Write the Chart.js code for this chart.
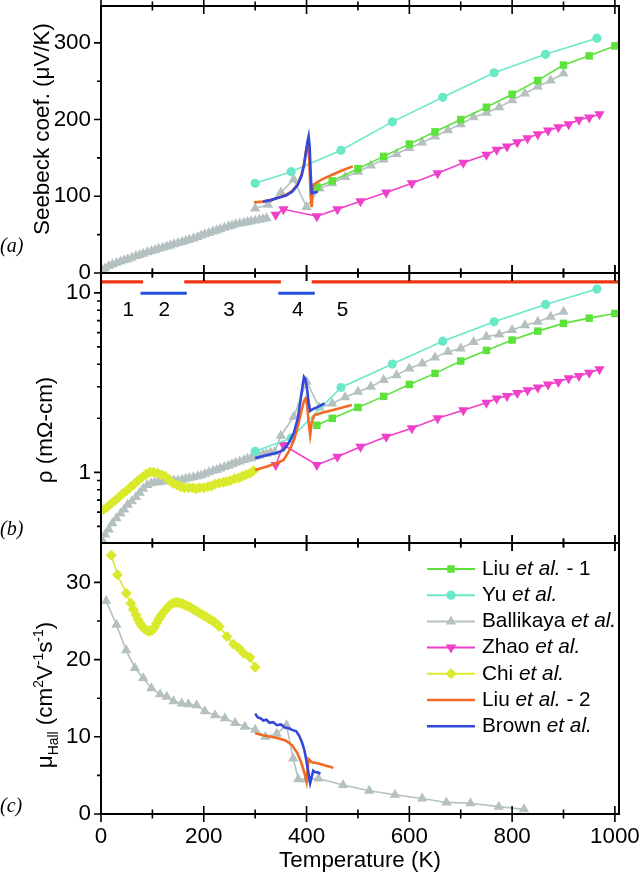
<!DOCTYPE html>
<html>
<head>
<meta charset="utf-8">
<script src="https://cdn.jsdelivr.net/npm/chart.js@4.4.1/dist/chart.umd.min.js"></script>
<style>
html, body { margin: 0; background: #fff; }
#wrap { position: relative; width: 640px; height: 874px; }
canvas { position: absolute; left: 0; top: 0; }
</style>
</head>
<body>
<div id="wrap">
<canvas id="seebeck" width="640" height="874"></canvas>
<canvas id="rho" width="640" height="874"></canvas>
<canvas id="hall" width="640" height="874"></canvas>
</div>
<script>
// ---- data ----
const xMajorTicks = [0, 200, 400, 600, 800, 1000];
const xMinorTicks = [100, 300, 500, 700, 900];
const seebeckTicks = [0, 100, 200, 300];
const seebeckMinor = [50, 150, 250];
const rhoTicks = [1, 10];
const rhoMinor = [0.5, 0.6, 0.7, 0.8, 0.9, 2, 3, 4, 5, 6, 7, 8, 9];
const hallTicks = [0, 10, 20, 30];
const hallMinor = [5, 15, 25];

const legendNames = ['Liu', 'Yu', 'Ballikaya', 'Zhao', 'Chi', 'Liu', 'Brown'];
const legendSuffix = [' - 1', '', '', '', '', ' - 2', ''];

const tempLiu1 = [420, 450, 500, 550, 600, 650, 700, 750, 800, 850, 900, 950, 1000];
const seebeckLiu1 = [112, 120, 136, 152, 168, 184, 200, 216, 233, 251, 271, 283, 296];
const rhoLiu1 = [1.83, 2.0, 2.30, 2.65, 3.09, 3.56, 4.17, 4.78, 5.46, 6.12, 6.76, 7.23, 7.68];

const tempYu = [300, 370, 467, 567, 665, 765, 865, 965];
const seebeckYu = [117, 132, 160, 197, 229, 261, 285, 306];
const rhoYu = [1.31, 1.55, 2.97, 4.01, 5.38, 6.90, 8.62, 10.5];

const tempBallikayaLowS = [2, 8, 15, 22, 30, 38, 45, 52, 60, 68, 75, 82, 90, 98, 105, 112, 120, 128, 135, 142, 150, 158, 165, 172, 180, 188, 195, 202, 210, 218, 225, 232, 240, 248, 255, 262, 270, 278, 285, 292, 300, 308, 315, 322];
const seebeckBallikayaLow = [4, 6, 9, 11, 13, 15, 16.5, 18, 20, 22, 23.5, 25, 27, 28.5, 30, 31.5, 33, 34.5, 36, 37.5, 39, 40.5, 42, 43.5, 45, 47, 49, 50.5, 52, 54, 55.5, 57, 59, 60.5, 62, 63.5, 64.5, 65.5, 66.5, 67.5, 68.5, 69.5, 70.5, 71.5];
const tempBallikayaHighS = [300, 325, 350, 375, 400, 425, 450, 475, 500, 525, 550, 575, 600, 625, 650, 675, 700, 725, 750, 775, 800, 825, 850, 875, 900];
const seebeckBallikayaHigh = [84, 89, 105, 122, 86, 110, 117, 125, 132, 140, 148, 155, 163, 170, 178, 186, 194, 203, 209, 216, 225, 234, 243, 251, 260];
const tempBallikayaRho = [2, 8, 15, 22, 30, 38, 45, 52, 60, 68, 75, 82, 90, 98, 105, 112, 120, 128, 135, 142, 150, 158, 165, 172, 180, 188, 195, 202, 210, 218, 225, 232, 240, 248, 255, 262, 270, 278, 285, 292, 300, 308, 315, 322, 330, 338, 350, 375, 400, 425, 450, 475, 500, 525, 550, 575, 600, 625, 650, 675, 700, 725, 750, 775, 800, 825, 850, 875, 900];
const rhoBallikaya = [0.42, 0.45, 0.48, 0.52, 0.555, 0.59, 0.62, 0.66, 0.69, 0.73, 0.77, 0.81, 0.85, 0.87, 0.88, 0.88, 0.89, 0.9, 0.9, 0.9, 0.9, 0.91, 0.92, 0.93, 0.94, 0.95, 0.96, 0.98, 1.0, 1.02, 1.03, 1.05, 1.07, 1.09, 1.11, 1.13, 1.15, 1.17, 1.19, 1.2, 1.22, 1.24, 1.26, 1.27, 1.29, 1.30, 1.6, 2.04, 3.2, 2.3, 2.42, 2.62, 2.81, 3.0, 3.27, 3.48, 3.79, 4.04, 4.37, 4.69, 4.9, 5.33, 5.69, 5.87, 6.2, 6.6, 6.9, 7.35, 7.84];
const tempBallikayaHall = [10, 30, 49, 66, 82, 98, 115, 128, 141, 157, 170, 186, 202, 222, 241, 261, 280, 300, 320, 342, 361, 374, 384, 400, 423, 471, 522, 572, 625, 672, 719, 774, 823];
const hallBallikaya = [27.6, 24.5, 21.2, 18.9, 17.6, 16.3, 15.5, 15.2, 14.6, 14.3, 14.2, 14.1, 13.3, 12.8, 12.4, 11.8, 11.3, 10.9, 10.0, 10.4, 11.5, 7.2, 4.5, 4.5, 4.6, 3.75, 3.0, 2.5, 2.0, 1.5, 1.4, 0.95, 0.6];

const tempZhao = [340, 355, 420, 460, 505, 555, 605, 655, 705, 750, 770, 790, 810, 830, 850, 870, 890, 910, 930, 950, 970];
const seebeckZhao = [76, 83, 74, 83, 93.5, 105, 117, 130, 143.6, 154, 160.6, 165, 170.5, 175.7, 181, 185.6, 190, 194, 199.7, 202.7, 207];
const rhoZhao = [1.10, 1.42, 1.10, 1.22, 1.39, 1.58, 1.76, 2.0, 2.22, 2.44, 2.58, 2.66, 2.77, 2.87, 2.97, 3.09, 3.19, 3.34, 3.44, 3.59, 3.75];

const tempChiRho = [5, 12, 20, 28, 35, 42, 50, 58, 65, 72, 80, 88, 95, 102, 110, 118, 125, 132, 140, 148, 155, 162, 170, 178, 185, 192, 200, 208, 215, 222, 230, 238, 245, 252, 260, 268, 275, 282, 290, 297];
const rhoChi = [0.62, 0.64, 0.67, 0.70, 0.73, 0.76, 0.79, 0.83, 0.86, 0.90, 0.94, 0.98, 1.0, 1.0, 0.99, 0.97, 0.95, 0.91, 0.87, 0.85, 0.83, 0.82, 0.82, 0.82, 0.81, 0.82, 0.82, 0.83, 0.84, 0.86, 0.87, 0.88, 0.89, 0.90, 0.92, 0.93, 0.95, 0.97, 0.99, 1.02];
const tempChiHall = [20, 32, 49, 58, 63, 68, 72, 76, 80, 84, 88, 92, 96, 100, 104, 108, 112, 116, 120, 125, 130, 135, 140, 145, 150, 155, 160, 165, 170, 175, 180, 185, 190, 195, 200, 205, 210, 215, 220, 225, 230, 245, 258, 268, 278, 290, 300];
const hallChi = [33.5, 31.0, 28.6, 27.3, 26.5, 25.8, 25.2, 24.7, 24.3, 24.0, 23.8, 23.7, 23.7, 23.8, 24.2, 24.7, 25.2, 25.6, 26.0, 26.4, 26.8, 27.1, 27.3, 27.4, 27.4, 27.3, 27.2, 27.0, 26.9, 26.7, 26.5, 26.3, 26.1, 25.9, 25.7, 25.5, 25.3, 25.1, 24.9, 24.6, 24.3, 23.0, 22.0, 21.5, 20.8, 20.3, 19.0];

const tempLiu2S = [298, 315, 330, 345, 360, 372, 382, 390, 395, 399, 402, 405, 408, 410, 413, 430, 450, 470, 490];
const seebeckLiu2 = [92, 93, 95, 98, 102, 107, 115, 128, 142, 160, 168, 150, 100, 86, 115, 122, 128, 134, 139];
const tempLiu2Rho = [300, 320, 340, 355, 365, 375, 383, 390, 395, 398, 401, 404, 407, 410, 415, 430, 450, 470, 488];
const rhoLiu2 = [1.03, 1.07, 1.12, 1.17, 1.3, 1.5, 1.8, 2.2, 2.5, 2.58, 2.4, 1.9, 1.62, 1.9, 2.08, 2.15, 2.22, 2.3, 2.37];
const tempLiu2Hall = [300, 315, 330, 345, 360, 372, 382, 390, 396, 400, 404, 410, 420, 435, 452];
const hallLiu2 = [10.45, 10.2, 10.0, 9.8, 9.5, 8.9, 7.9, 6.6, 5.3, 4.2, 7.1, 6.7, 6.6, 6.3, 6.0];

const tempBrownS = [315, 330, 345, 360, 372, 382, 390, 395, 399, 402, 404, 406, 408, 410, 415, 422];
const seebeckBrown = [93, 95, 98, 101, 106, 114, 126, 140, 158, 172, 178, 165, 130, 104, 105, 106];
const tempBrownRho = [300, 320, 340, 355, 365, 375, 383, 388, 392, 395, 398, 401, 404, 407, 412, 420, 435];
const rhoBrown = [1.20, 1.24, 1.28, 1.33, 1.45, 1.65, 2.0, 2.5, 3.0, 3.4, 3.3, 2.9, 2.45, 2.2, 2.25, 2.3, 2.42];
const tempBrownHall = [300, 305, 310, 316, 322, 328, 335, 342, 350, 358, 365, 372, 380, 386, 391, 396, 400, 404, 407, 410, 413, 417, 422, 427];
const hallBrown = [13.0, 12.5, 12.4, 12.1, 12.2, 11.8, 11.9, 11.5, 11.6, 11.2, 11.1, 10.9, 10.7, 10.1, 9.3, 8.2, 6.8, 5.2, 4.0, 4.8, 5.6, 5.4, 5.4, 5.2];

// temperature ranges of the five regions marked above panel (b)
const regionRed = [[0, 82], [162, 350], [410, 1010]];
const regionBlue = [[77, 167], [345, 416]];
const regionLabels = ['1', '2', '3', '4', '5'];
const regionLabelTemp = [53, 123, 249, 383, 470];

// ---- fonts ----
function hasFont(name) {
  const c = document.createElement('canvas').getContext('2d');
  c.font = '40px monospace';
  const w0 = c.measureText('Temperature 1000').width;
  c.font = '40px "' + name + '", monospace';
  return c.measureText('Temperature 1000').width !== w0;
}
const NARROW = hasFont('Liberation Sans Narrow');
const FAMILY = NARROW ? '"Liberation Sans Narrow", "Liberation Sans", sans-serif' : '"Liberation Sans", Arial, sans-serif';
const K = NARROW ? 1 : 0.83;
const fs = n => Math.round(n * K * 10) / 10;

// ---- styles ----
const style = {
  liu1: { color: '#5de23c', pointStyle: 'rect', radius: 5.3, width: 1.6 },
  yu: { color: '#6ae8c8', pointStyle: 'circle', radius: 4.6, width: 1.6 },
  ballikaya: { color: '#b5c1c1', pointStyle: 'triangle', radius: 6, width: 1.6 },
  zhao: { color: '#f03fc8', pointStyle: 'triangle', rotation: 180, radius: 6, width: 1.6 },
  chi: { color: '#d9ea2c', pointStyle: 'rectRot', radius: 5.5, width: 1.6 },
  liu2: { color: '#f26a24', pointStyle: false, radius: 0, width: 2.6 },
  brown: { color: '#3447dc', pointStyle: false, radius: 0, width: 2.6 }
};
const legendOrder = ['liu1', 'yu', 'ballikaya', 'zhao', 'chi', 'liu2', 'brown'];
const drawOrder = { brown: 1, liu2: 2, liu1: 3, yu: 4, zhao: 5, chi: 6, ballikaya: 7 };

const pts = (xs, ys) => xs.map((x, i) => ({ x: x, y: ys[i] }));

function series(key, data) {
  const s = style[key];
  return {
    data: data,
    borderColor: s.color,
    backgroundColor: s.color,
    borderWidth: s.width,
    pointStyle: s.pointStyle || 'circle',
    pointRadius: s.radius,
    pointRotation: s.rotation || 0,
    pointBorderWidth: 0,
    pointHoverRadius: 0,
    tension: 0,
    spanGaps: false,
    order: drawOrder[key]
  };
}

function band(ranges, level, color) {
  const data = [];
  ranges.forEach(r => {
    if (data.length) data.push({ x: r[0] - 1, y: null });
    data.push({ x: r[0], y: level }, { x: r[1], y: level });
  });
  return { data: data, borderColor: color, borderWidth: 3.2, pointRadius: 0, spanGaps: false, order: 0 };
}

// ---- drawing helpers ----
function drawRich(ctx, parts, cx, cy, size) {
  ctx.save();
  ctx.translate(cx, cy);
  ctx.rotate(-Math.PI / 2);
  ctx.fillStyle = '#000';
  ctx.textBaseline = 'alphabetic';
  ctx.textAlign = 'left';
  const small = size * 0.62;
  let total = 0;
  parts.forEach(p => {
    ctx.font = ((p.sub || p.sup) ? small : size) + 'px ' + FAMILY;
    p.w = ctx.measureText(p.t).width;
    total += p.w;
  });
  let x = -total / 2;
  const base = size * 0.36;
  parts.forEach(p => {
    ctx.font = ((p.sub || p.sup) ? small : size) + 'px ' + FAMILY;
    const dy = p.sub ? size * 0.26 : (p.sup ? -size * 0.4 : 0);
    ctx.fillText(p.t, x, base + dy);
    x += p.w;
  });
  ctx.restore();
}

const panelDecor = {
  id: 'panelDecor',
  afterDatasetsDraw(chart, args, o) {
    const { ctx, chartArea: a } = chart;
    const x = chart.scales.x, y = chart.scales.y;
    ctx.save();
    ctx.strokeStyle = '#000';
    ctx.lineWidth = 1.6;
    ctx.beginPath();
    xMajorTicks.concat(xMinorTicks).forEach(v => {
      const px = x.getPixelForValue(v);
      const h = xMajorTicks.includes(v) ? 8 : 4.5;
      ctx.moveTo(px, a.top - h); ctx.lineTo(px, a.top + h);
      ctx.moveTo(px, a.bottom - h); ctx.lineTo(px, a.bottom + h);
    });
    o.major.forEach(v => {
      const py = y.getPixelForValue(v);
      ctx.moveTo(a.left - 7, py); ctx.lineTo(a.left, py);
    });
    o.minor.forEach(v => {
      const py = y.getPixelForValue(v);
      ctx.moveTo(a.left - 4, py); ctx.lineTo(a.left, py);
    });
    ctx.stroke();
    ctx.lineWidth = 2;
    ctx.strokeRect(a.left, a.top, a.right - a.left, a.bottom - a.top);

    ctx.fillStyle = '#000';
    ctx.font = 'italic 20px "Liberation Serif", "DejaVu Serif", serif';
    ctx.textBaseline = 'middle';
    ctx.textAlign = 'left';
    ctx.fillText(o.letter, 0, a.bottom - o.letterUp);
    ctx.restore();

    drawRich(ctx, o.title, o.titleX, o.titleY, fs(27));

    if (o.regions) {
      ctx.save();
      ctx.fillStyle = '#000';
      ctx.font = fs(25) + 'px ' + FAMILY;
      ctx.textAlign = 'center';
      ctx.textBaseline = 'middle';
      regionLabels.forEach((t, i) => {
        ctx.fillText(t, x.getPixelForValue(regionLabelTemp[i]), y.getPixelForValue(8.0));
      });
      ctx.restore();
    }
  }
};

const legendBox = {
  id: 'legendBox',
  afterDraw(chart, args, o) {
    if (!o.show) return;
    const ctx = chart.ctx;
    ctx.save();
    legendOrder.forEach((key, i) => {
      const s = style[key];
      const yy = 569 + i * 26.2;
      ctx.strokeStyle = s.color;
      ctx.lineWidth = Math.max(s.width, 2);
      ctx.beginPath();
      ctx.moveTo(427, yy); ctx.lineTo(475, yy);
      ctx.stroke();
      if (s.pointStyle) {
        ctx.fillStyle = s.color;
        Chart.helpers.drawPoint(ctx, { pointStyle: s.pointStyle, radius: s.radius, rotation: s.rotation || 0, borderWidth: 0 }, 451, yy);
      }
      ctx.fillStyle = '#000';
      ctx.textBaseline = 'middle';
      ctx.textAlign = 'left';
      let tx = 482;
      ctx.font = fs(25) + 'px ' + FAMILY;
      ctx.fillText(legendNames[i] + ' ', tx, yy);
      tx += ctx.measureText(legendNames[i] + ' ').width;
      ctx.font = 'italic ' + fs(25) + 'px ' + FAMILY;
      ctx.fillText('et al.', tx, yy);
      tx += ctx.measureText('et al.').width;
      ctx.font = fs(25) + 'px ' + FAMILY;
      ctx.fillText(legendSuffix[i], tx, yy);
    });
    ctx.restore();
  }
};

Chart.register(panelDecor, legendBox);

function makePanel(id, datasets, yOpts, pad, deco, showX) {
  const tickFont = { family: FAMILY, size: fs(27) };
  return new Chart(document.getElementById(id), {
    type: 'line',
    data: { datasets: datasets },
    options: {
      responsive: false,
      animation: false,
      events: [],
      layout: { padding: pad },
      plugins: {
        legend: { display: false },
        tooltip: { enabled: false },
        panelDecor: deco,
        legendBox: { show: !!showX }
      },
      scales: {
        x: {
          type: 'linear',
          min: 0,
          max: 1008,
          display: !!showX,
          grid: { display: false, drawTicks: false, tickLength: 0 },
          border: { display: false },
          afterBuildTicks: s => { s.ticks = xMajorTicks.map(v => ({ value: v })); },
          afterFit: s => {
            s.paddingLeft = 0; s.paddingRight = 0;
            if (showX) s.height = 60;
          },
          ticks: { font: tickFont, color: '#000', padding: 9, maxRotation: 0, callback: v => String(v) },
          title: { display: true, text: 'Temperature (K)', font: tickFont, color: '#000', padding: { top: 0, bottom: 0 } }
        },
        y: Object.assign({
          grid: { display: false, drawTicks: false, tickLength: 0 },
          border: { display: false },
          afterBuildTicks: s => { s.ticks = deco.major.map(v => ({ value: v })); },
          afterFit: s => { s.width = 101; s.paddingTop = 0; s.paddingBottom = 0; },
          ticks: { font: tickFont, color: '#000', padding: 10, callback: v => String(v) }
        }, yOpts)
      }
    }
  });
}

// (a) Seebeck coefficient
const ballikayaSeebeck = pts(tempBallikayaLowS, seebeckBallikayaLow)
  .concat([{ x: 310, y: null }])
  .concat(pts(tempBallikayaHighS, seebeckBallikayaHigh));

makePanel('seebeck', [
  series('liu1', pts(tempLiu1, seebeckLiu1)),
  series('yu', pts(tempYu, seebeckYu)),
  series('ballikaya', ballikayaSeebeck),
  series('zhao', pts(tempZhao, seebeckZhao)),
  series('liu2', pts(tempLiu2S, seebeckLiu2)),
  series('brown', pts(tempBrownS, seebeckBrown))
], { type: 'linear', min: 0, max: 348 },
  { left: 0, right: 21, top: 2, bottom: 601 },
  { major: seebeckTicks, minor: seebeckMinor, letter: '(a)', letterUp: 26,
    title: [{ t: 'Seebeck coef. (\u03bcV/K)' }], titleX: 41, titleY: 129 });

// (b) resistivity
makePanel('rho', [
  series('liu1', pts(tempLiu1, rhoLiu1)),
  series('yu', pts(tempYu, rhoYu)),
  series('ballikaya', pts(tempBallikayaRho, rhoBallikaya)),
  series('zhao', pts(tempZhao, rhoZhao)),
  series('chi', pts(tempChiRho, rhoChi)),
  series('liu2', pts(tempLiu2Rho, rhoLiu2)),
  series('brown', pts(tempBrownRho, rhoBrown)),
  band(regionRed, 11.5, '#ee3514'),
  band(regionBlue, 9.95, '#2450dc')
], { type: 'logarithmic', min: 0.404, max: 12.9 },
  { left: 0, right: 21, top: 273, bottom: 331 },
  { major: rhoTicks, minor: rhoMinor, letter: '(b)', letterUp: 13, regions: true,
    title: [{ t: '\u03c1 (m\u03a9-cm)' }], titleX: 44, titleY: 430 });

// (c) Hall mobility
makePanel('hall', [
  series('ballikaya', pts(tempBallikayaHall, hallBallikaya)),
  series('chi', pts(tempChiHall, hallChi)),
  series('liu2', pts(tempLiu2Hall, hallLiu2)),
  series('brown', pts(tempBrownHall, hallBrown))
], { type: 'linear', min: 0, max: 35.1 },
  { left: 0, right: 21, top: 543, bottom: 0 },
  { major: hallTicks, minor: hallMinor, letter: '(c)', letterUp: 7,
    title: [{ t: '\u03bc' }, { t: 'Hall', sub: true }, { t: ' (cm' }, { t: '2', sup: true }, { t: 'V' },
            { t: '-1', sup: true }, { t: 's' }, { t: '-1', sup: true }, { t: ')' }],
    titleX: 44, titleY: 695 }, true);
</script>
</body>
</html>
